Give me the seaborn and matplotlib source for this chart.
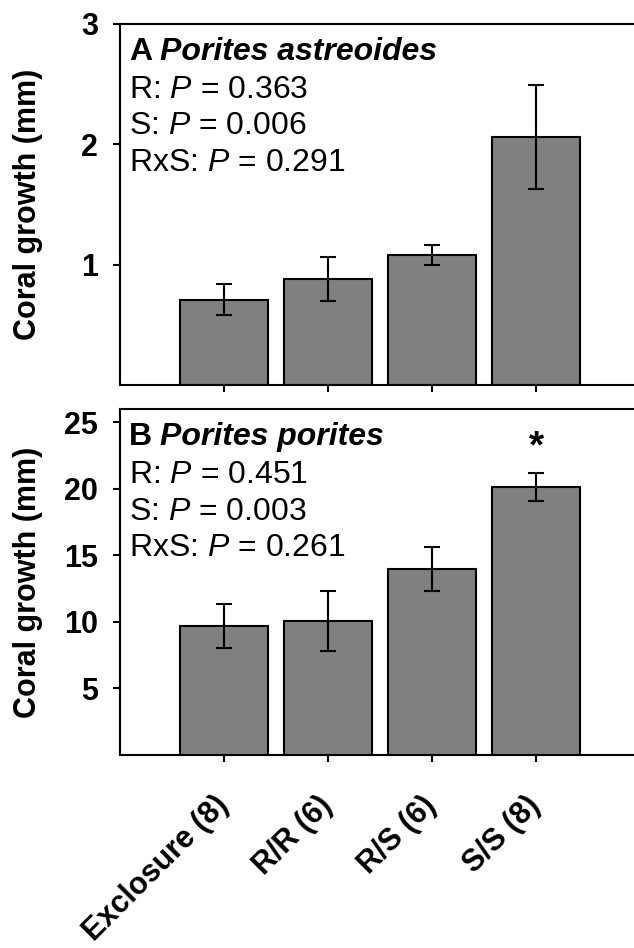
import matplotlib
matplotlib.use('Agg')
import matplotlib.pyplot as plt
import seaborn as sns
import pandas as pd

# Dados
categorias = ['Exclosure (8)', 'R/R (6)', 'R/S (6)', 'S/S (8)']

media_a = [0.71, 0.88, 1.08, 2.06]
erro_a = [0.13, 0.18, 0.085, 0.43]

media_b = [9.7, 10.1, 14.0, 20.15]
erro_b = [1.65, 2.25, 1.65, 1.03]

stats_a = ['R: $\\it{P}$ = 0.363', 'S: $\\it{P}$ = 0.006', 'RxS: $\\it{P}$ = 0.291']
stats_b = ['R: $\\it{P}$ = 0.451', 'S: $\\it{P}$ = 0.003', 'RxS: $\\it{P}$ = 0.261']

sns.set_style('ticks')
plt.rcParams['font.family'] = ['Liberation Sans', 'DejaVu Sans']
plt.rcParams['mathtext.fontset'] = 'custom'
plt.rcParams['mathtext.it'] = 'Liberation Sans:italic'
plt.rcParams['mathtext.rm'] = 'Liberation Sans'
plt.rcParams['text.color'] = 'black'
plt.rcParams['axes.labelcolor'] = 'black'
plt.rcParams['xtick.color'] = 'black'
plt.rcParams['ytick.color'] = 'black'

fig = plt.figure(figsize=(6.34, 9.48), dpi=100)
# posições em px (y de cima para baixo)
ax_a = fig.add_axes([120 / 634, 1 - 385 / 948, 520 / 634, 361 / 948])
ax_b = fig.add_axes([120 / 634, 1 - 755 / 948, 520 / 634, 346 / 948])


def painel(ax, medias, erros, ylim, yticks, letra, especie, stats):
    df = pd.DataFrame({'grupo': categorias, 'valor': medias})
    sns.barplot(data=df, x='grupo', y='valor', color='#808080', saturation=1,
                edgecolor='black', linewidth=1.5, width=0.85, ax=ax)
    ax.errorbar(range(len(medias)), medias, yerr=erros, fmt='none',
                ecolor='black', elinewidth=1.5, capsize=6, capthick=1.5)
    ax.set_xlim(-1.0, 4.0)
    ax.set_ylim(*ylim)
    ax.set_yticks(yticks)
    ax.set_yticklabels([str(t) for t in yticks], fontsize=22, fontweight='bold')
    ax.set_ylabel('Coral growth (mm)', fontsize=22, fontweight='bold')
    ax.yaxis.set_label_coords(-(120 - 43) / 520, 0.5)
    ax.set_xlabel('')
    for s in ['left', 'bottom', 'top']:
        ax.spines[s].set_linewidth(1.5)
        ax.spines[s].set_color('black')
    ax.spines['right'].set_visible(False)
    ax.tick_params(axis='y', direction='out', length=5, width=1.5, pad=11)
    ax.tick_params(axis='x', direction='out', length=5, width=1.5, pad=28)
    h = ax.get_position().height * fig.get_figheight() * fig.dpi
    ax.text(9 / 520, 1 - 28 / h, letra, transform=ax.transAxes, fontsize=23,
            fontweight='bold', va='center', ha='left')
    ax.text(40 / 520, 1 - 28 / h, especie, transform=ax.transAxes, fontsize=23,
            fontweight='bold', style='italic', va='center', ha='left')
    for i, linha in enumerate(stats):
        ax.text(9 / 520, 1 - (66 + 36.5 * i) / h, linha, transform=ax.transAxes,
                fontsize=23, va='center', ha='left')


painel(ax_a, media_a, erro_a, (0, 3), [1, 2, 3], 'A', 'Porites astreoides', stats_a)
painel(ax_b, media_b, erro_b, (0, 26), [5, 10, 15, 20, 25], 'B', 'Porites porites', stats_b)

ax_a.set_xticklabels([])
ax_b.set_xticklabels(categorias, rotation=45, ha='right', va='center',
                     rotation_mode='anchor', fontsize=22, fontweight='bold')

# Asterisco de significância
ax_b.text(3, media_b[3] + erro_b[3] + 0.6, '*', ha='center', va='bottom',
          fontsize=28, fontweight='bold')

fig.savefig('out.png', dpi=100)
